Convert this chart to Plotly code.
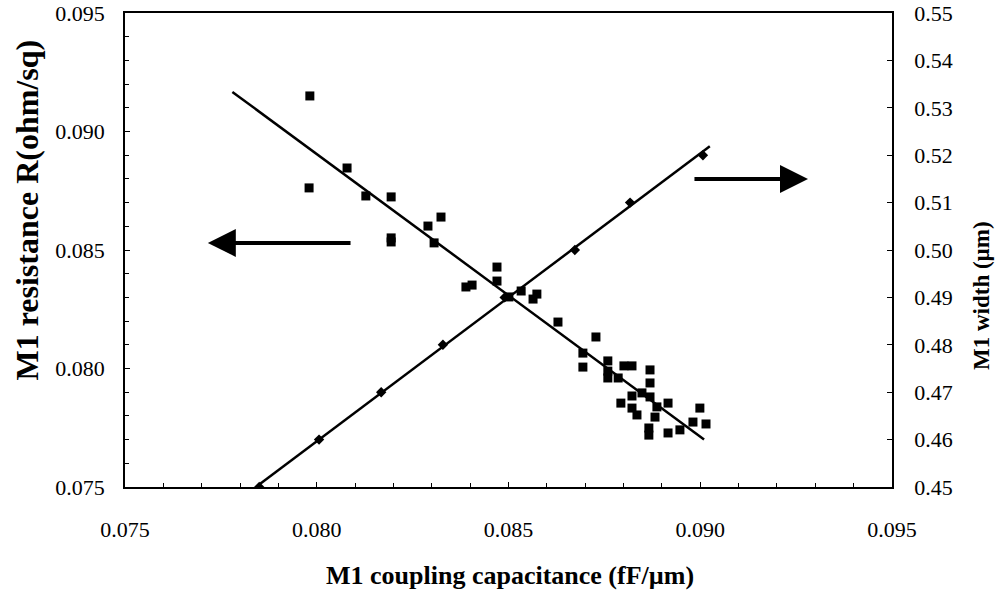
import numpy as np
import plotly.graph_objects as go

# M1 resistance vs coupling capacitance (left axis, squares)
cap_r = [0.07982, 0.08079, 0.07980, 0.08128, 0.08194, 0.08194, 0.08194, 0.08290, 0.08324,
         0.08306, 0.08470, 0.08470, 0.08389, 0.08405, 0.08501, 0.08533, 0.08574, 0.08564,
         0.08629, 0.08728, 0.08694, 0.08694, 0.08759, 0.08759, 0.08759, 0.08786, 0.08801,
         0.08822, 0.08869, 0.08869, 0.08848, 0.08822, 0.08793, 0.08822, 0.08835, 0.08869,
         0.08887, 0.08916, 0.08882, 0.08866, 0.08866, 0.08916, 0.08947, 0.08981, 0.08999,
         0.09015]
res = [0.09150, 0.08846, 0.08762, 0.08728, 0.08724, 0.08551, 0.08534, 0.08601, 0.08639,
       0.08530, 0.08428, 0.08369, 0.08344, 0.08352, 0.08302, 0.08327, 0.08314, 0.08293,
       0.08196, 0.08133, 0.08065, 0.08006, 0.08032, 0.07989, 0.07960, 0.07960, 0.08011,
       0.08011, 0.07994, 0.07939, 0.07897, 0.07884, 0.07854, 0.07833, 0.07804, 0.07880,
       0.07838, 0.07854, 0.07795, 0.07749, 0.07719, 0.07728, 0.07741, 0.07774, 0.07833,
       0.07766]

# M1 width vs coupling capacitance (right axis, diamonds)
cap_w = [0.0785, 0.08006, 0.08168, 0.08329, 0.0849, 0.08673, 0.08817, 0.09007]
width = [0.45, 0.46, 0.47, 0.48, 0.49, 0.50, 0.51, 0.52]

# trendline x extents
trend_r_x = [0.0778, 0.0901]
trend_w_x = [0.0785, 0.09025]

kr = np.polyfit(cap_r, res, 1)
kw = np.polyfit(cap_w, width, 1)
tr_y = list(np.polyval(kr, trend_r_x))
tw_y = list(np.polyval(kw, trend_w_x))

FONT = "Liberation Serif"

fig = go.Figure()
fig.add_trace(go.Scatter(x=trend_r_x, y=tr_y, mode="lines",
                         line=dict(color="black", width=2.5), showlegend=False))
fig.add_trace(go.Scatter(x=cap_r, y=res, mode="markers",
                         marker=dict(symbol="square", size=9, color="black"), showlegend=False))
fig.add_trace(go.Scatter(x=trend_w_x, y=tw_y, mode="lines", yaxis="y2",
                         line=dict(color="black", width=2.5), showlegend=False))
fig.add_trace(go.Scatter(x=cap_w, y=width, mode="markers", yaxis="y2",
                         marker=dict(symbol="diamond", size=8, color="black"), showlegend=False))

axis_common = dict(showgrid=False, zeroline=False, showline=True, linecolor="black", linewidth=1.5,
                   tickfont=dict(family=FONT, size=22, color="black"), ticks="inside",
                   tickcolor="black", ticklen=5, automargin=False)

fig.update_layout(
    template="simple_white",
    width=999, height=593,
    margin=dict(l=125, r=107, t=13, b=106, autoexpand=False),
    paper_bgcolor="white", plot_bgcolor="white",
    font=dict(family=FONT, color="black"),
    xaxis=dict(range=[0.075, 0.095], dtick=0.005, tickformat=".3f", mirror=True,
               ticklabelstandoff=22,
               minor=dict(dtick=0.001, ticks="inside", ticklen=4, tickcolor="black"),
               **axis_common),
    yaxis=dict(range=[0.075, 0.095], dtick=0.005, tickformat=".3f",
               ticklabelstandoff=14,
               minor=dict(dtick=0.001, ticks="inside", ticklen=4, tickcolor="black"),
               **axis_common),
    yaxis2=dict(range=[0.45, 0.55], dtick=0.01, tickformat=".2f", overlaying="y", side="right",
                ticklabelstandoff=16, **axis_common),
    annotations=[
        dict(text="<b>M1 resistance R(ohm/sq)</b>", xref="paper", yref="paper",
             x=-0.128, y=0.585, xanchor="center", yanchor="middle", textangle=-90,
             showarrow=False, font=dict(family=FONT, size=32, color="black")),
        dict(text="<b>M1 width (µm)</b>", xref="paper", yref="paper",
             x=1.116, y=0.405, xanchor="center", yanchor="middle", textangle=-90,
             showarrow=False, font=dict(family=FONT, size=23, color="black")),
        dict(text="<b>M1 coupling capacitance (fF/µm)</b>", xref="paper", yref="paper",
             x=0.5026, y=-0.186, xanchor="center", yanchor="middle",
             showarrow=False, font=dict(family=FONT, size=26, color="black")),
        dict(x=0.07716, y=0.0853, ax=0.08092, ay=0.0853, xref="x", yref="y", axref="x", ayref="y",
             text="", showarrow=True, arrowhead=2, arrowsize=1.4, arrowwidth=4, arrowcolor="black"),
        dict(x=0.09281, y=0.0880, ax=0.08981, ay=0.0880, xref="x", yref="y", axref="x", ayref="y",
             text="", showarrow=True, arrowhead=2, arrowsize=1.4, arrowwidth=4, arrowcolor="black"),
    ],
)

fig.write_html("out.html")
